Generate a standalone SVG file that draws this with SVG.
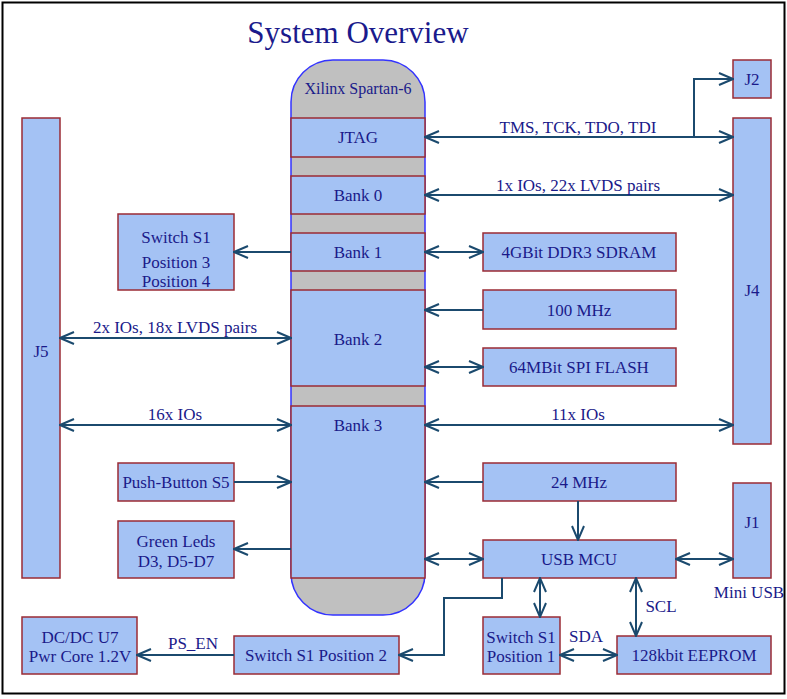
<svg xmlns="http://www.w3.org/2000/svg" width="787" height="699" viewBox="0 0 787 699" font-family="'Liberation Serif', Tinos, 'Times New Roman', 'DejaVu Serif', serif">
<defs>
<marker id="ah" viewBox="0 0 16 14" refX="15" refY="7" markerWidth="16" markerHeight="14" markerUnits="userSpaceOnUse" orient="auto-start-reverse">
<path d="M1,1 L15,7 L1,13" fill="none" stroke="#1b4a6e" stroke-width="2"/>
</marker>
<style>
.box{fill:#a4c2f4;stroke:#9b2b35;stroke-width:1.5}
.t{font-size:17px;fill:#1a1a8a;text-anchor:middle}
.c{fill:none;stroke:#1b4a6e;stroke-width:2}
.e{marker-end:url(#ah)}
.b{marker-start:url(#ah);marker-end:url(#ah)}
</style>
</defs>
<rect x="0" y="0" width="787" height="699" fill="#ffffff"/>
<rect x="2.5" y="2.5" width="782" height="691" fill="none" stroke="#000" stroke-width="2"/>
<text x="358" y="43" font-size="31" fill="#1a1a8c" text-anchor="middle">System Overview</text>

<g id="fpga">
<rect x="291" y="60" width="134" height="555" rx="42" ry="42" fill="#c0c0c0" stroke="#3333ff" stroke-width="1.5"/>
<text class="t" x="358" y="94" style="font-size:16px">Xilinx Spartan-6</text>
</g>
<g id="jtag"><rect class="box" x="291" y="118" width="134" height="39"/><text class="t" x="358" y="143">JTAG</text></g>
<g id="bank0"><rect class="box" x="291" y="176" width="134" height="38"/><text class="t" x="358" y="201">Bank 0</text></g>
<g id="bank1"><rect class="box" x="291" y="233" width="134" height="38"/><text class="t" x="358" y="258">Bank 1</text></g>
<g id="bank2"><rect class="box" x="291" y="290" width="134" height="96"/><text class="t" x="358" y="345">Bank 2</text></g>
<g id="bank3"><rect class="box" x="291" y="406" width="134" height="172"/><text class="t" x="358" y="431">Bank 3</text></g>

<g id="j5"><rect class="box" x="22" y="118" width="38" height="460"/><text class="t" x="41" y="357">J5</text></g>
<g id="j2"><rect class="box" x="733" y="60" width="38" height="38"/><text class="t" x="752" y="85">J2</text></g>
<g id="j4"><rect class="box" x="733" y="118" width="38" height="326"/><text class="t" x="752" y="296">J4</text></g>
<g id="j1"><rect class="box" x="733" y="483" width="38" height="95"/><text class="t" x="752" y="528">J1</text><text class="t" x="749" y="598">Mini USB</text></g>

<g id="switch34"><rect class="box" x="118" y="214" width="116" height="76"/><text class="t" x="176" y="243">Switch S1</text><text class="t" x="176" y="268">Position 3</text><text class="t" x="176" y="287">Position 4</text></g>
<g id="ddr3"><rect class="box" x="483" y="233" width="193" height="38"/><text class="t" x="579" y="258">4GBit DDR3 SDRAM</text></g>
<g id="osc100"><rect class="box" x="483" y="290" width="193" height="39"/><text class="t" x="579" y="316">100 MHz</text></g>
<g id="flash"><rect class="box" x="483" y="348" width="193" height="38"/><text class="t" x="579" y="373">64MBit SPI FLASH</text></g>
<g id="osc24"><rect class="box" x="483" y="463" width="193" height="38"/><text class="t" x="579" y="488">24 MHz</text></g>
<g id="usbmcu"><rect class="box" x="483" y="540" width="193" height="38"/><text class="t" x="579" y="565">USB MCU</text></g>
<g id="pushbutton"><rect class="box" x="118" y="463" width="116" height="38"/><text class="t" x="176" y="488">Push-Button S5</text></g>
<g id="leds"><rect class="box" x="118" y="521" width="116" height="57"/><text class="t" x="176" y="547">Green Leds</text><text class="t" x="176" y="567">D3, D5-D7</text></g>
<g id="dcdc"><rect class="box" x="22" y="617" width="115" height="57"/><text class="t" x="80" y="643">DC/DC U7</text><text class="t" x="80" y="662">Pwr Core 1.2V</text></g>
<g id="switch2"><rect class="box" x="234" y="636" width="165" height="38"/><text class="t" x="316" y="661">Switch S1 Position 2</text></g>
<g id="switch1"><rect class="box" x="483" y="617" width="77" height="57"/><text class="t" x="521" y="643">Switch S1</text><text class="t" x="521" y="662">Position 1</text></g>
<g id="eeprom"><rect class="box" x="617" y="636" width="154" height="38"/><text class="t" x="694" y="661">128kbit EEPROM</text></g>

<g id="connectors">
<line class="c b" x1="425" y1="137" x2="733" y2="137"/>
<polyline class="c e" points="694,137 694,79 733,79"/>
<line class="c b" x1="425" y1="195" x2="733" y2="195"/>
<line class="c e" x1="291" y1="252" x2="234" y2="252"/>
<line class="c b" x1="425" y1="252" x2="483" y2="252"/>
<line class="c e" x1="483" y1="310" x2="425" y2="310"/>
<line class="c b" x1="425" y1="367" x2="483" y2="367"/>
<line class="c b" x1="60" y1="338" x2="291" y2="338"/>
<line class="c b" x1="60" y1="425" x2="291" y2="425"/>
<line class="c b" x1="425" y1="425" x2="733" y2="425"/>
<line class="c e" x1="483" y1="482" x2="425" y2="482"/>
<line class="c e" x1="234" y1="482" x2="291" y2="482"/>
<line class="c e" x1="291" y1="549" x2="234" y2="549"/>
<line class="c b" x1="425" y1="559" x2="483" y2="559"/>
<line class="c e" x1="578" y1="501" x2="578" y2="540"/>
<line class="c b" x1="676" y1="559" x2="733" y2="559"/>
<line class="c b" x1="540" y1="578" x2="540" y2="617"/>
<line class="c b" x1="636" y1="578" x2="636" y2="636"/>
<line class="c b" x1="560" y1="655" x2="617" y2="655"/>
<polyline class="c e" points="502,578 502,598 444,598 444,655 399,655"/>
<line class="c e" x1="234" y1="655" x2="137" y2="655"/>
<text class="t" x="578" y="133">TMS, TCK, TDO, TDI</text>
<text class="t" x="578" y="191">1x IOs, 22x LVDS pairs</text>
<text class="t" x="175" y="333">2x IOs, 18x LVDS pairs</text>
<text class="t" x="175" y="420">16x IOs</text>
<text class="t" x="578" y="420">11x IOs</text>
<text class="t" x="661" y="612">SCL</text>
<text class="t" x="586" y="642">SDA</text>
<text class="t" x="193" y="649">PS_EN</text>
</g>
</svg>
